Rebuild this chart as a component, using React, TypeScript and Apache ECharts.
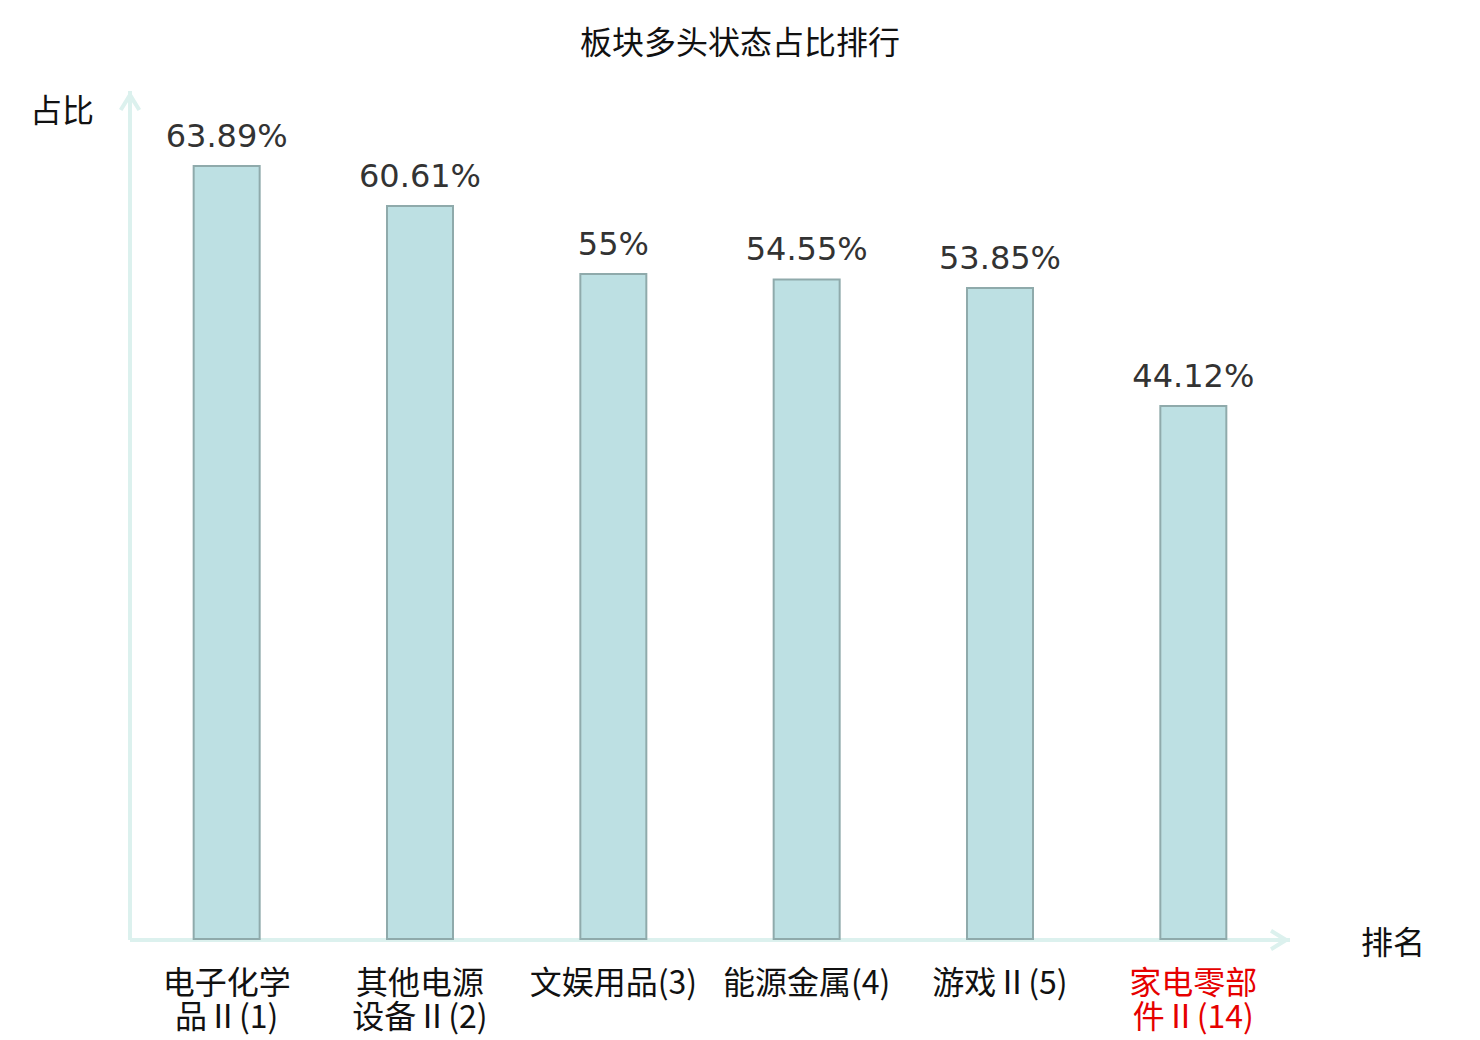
import React, { useEffect, useRef } from "react";
import * as echarts from "echarts";

const titleText = "板块多头状态占比排行";
const categories = [
  "电子化学品Ⅱ(1)",
  "其他电源设备Ⅱ(2)",
  "文娱用品(3)",
  "能源金属(4)",
  "游戏Ⅱ(5)",
  "家电零部件Ⅱ(14)",
];
const values = [63.89, 60.61, 55, 54.55, 53.85, 44.12];
const highlighted = ["家电零部件Ⅱ(14)"];
const yName = "占比";
const xName = "排名";

const chevron = "path://M11 0 L22 18 L18.6 20 L11 8 L3.4 20 L0 18 Z";
const axisColor = "#dcf1ee";

export default function App() {
  const ref = useRef<HTMLDivElement>(null);
  useEffect(() => {
    if (!ref.current) return;
    const chart = echarts.init(ref.current, null, { renderer: "svg" });
    const axisLine = {
      show: true,
      symbol: ["none", chevron],
      symbolSize: [22, 20],
      symbolOffset: [0, -10],
      lineStyle: { color: axisColor, width: 4, cap: "butt" },
    };
    chart.setOption({
      animation: false,
      backgroundColor: "#ffffff",
      title: {
        text: titleText,
        left: "center",
        top: 19,
        textStyle: {
          fontFamily: "Noto Sans CJK SC",
          fontSize: 32,
          fontWeight: "normal",
          color: "#111",
        },
      },
      grid: { left: 130, right: 190, top: 91, bottom: 100, containLabel: false },
      xAxis: {
        type: "category",
        data: categories.map((c) =>
          highlighted.includes(c) ? { value: c, textStyle: { color: "#e60000" } } : c
        ),
        name: xName,
        nameLocation: "end",
        nameGap: 71,
        nameTextStyle: {
          fontFamily: "Noto Sans CJK SC",
          fontSize: 32,
          color: "#111",
          align: "left",
          verticalAlign: "middle",
        },
        axisLine,
        axisTick: { show: false },
        splitLine: { show: false },
        axisLabel: {
          interval: 0,
          margin: 23,
          fontFamily: "Noto Sans CJK SC",
          fontSize: 32,
          lineHeight: 34,
          color: "#111",
          formatter: (v: string) => (v.length > 7 ? v.slice(0, 4) + "\n" + v.slice(4) : v),
        },
      },
      yAxis: {
        type: "value",
        min: 0,
        max: 70,
        name: yName,
        nameLocation: "end",
        nameGap: -17,
        nameTextStyle: {
          fontFamily: "Noto Sans CJK SC",
          fontSize: 32,
          color: "#111",
          align: "right",
          verticalAlign: "middle",
          padding: [0, 36, 0, 0],
        },
        axisLine,
        axisTick: { show: false },
        axisLabel: { show: false },
        splitLine: { show: false },
      },
      series: [
        {
          type: "bar",
          data: values,
          barWidth: 68,
          itemStyle: { color: "#bde0e3", borderColor: "#8faaab", borderWidth: 2 },
          label: {
            show: true,
            position: "top",
            distance: 13,
            formatter: (p: any) => p.value + "%",
            fontFamily: "DejaVu Sans",
            fontSize: 32,
            color: "#333",
          },
        },
      ],
    });
    return () => chart.dispose();
  }, []);
  return (
    <div
      ref={ref}
      style={{ position: "fixed", left: 0, top: 0, width: 1480, height: 1040 }}
    />
  );
}
